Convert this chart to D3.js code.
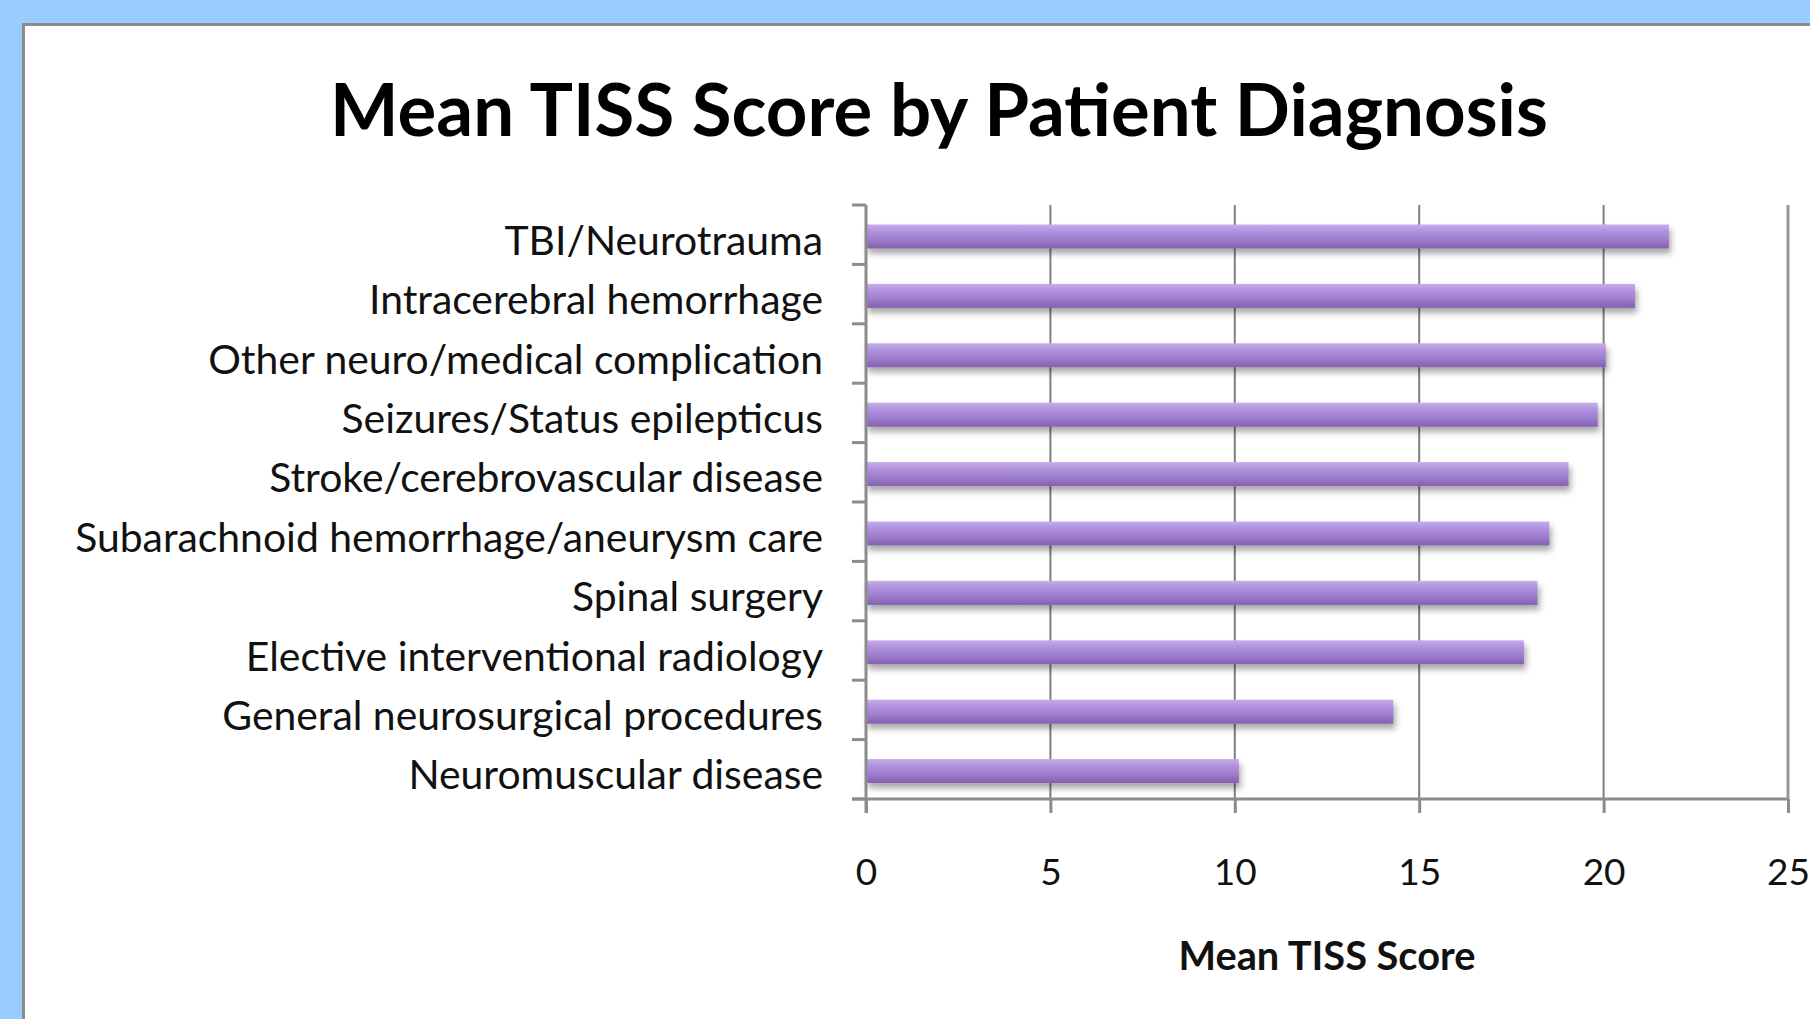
<!DOCTYPE html>
<html>
<head>
<meta charset="utf-8">
<script src="https://cdn.jsdelivr.net/npm/d3@7"></script>
<style>
  html, body { margin: 0; padding: 0; background: #99ccff; overflow: hidden; }
  svg { display: block; }
</style>
</head>
<body>
<svg id="chart" width="1810" height="1019"></svg>
<script>
// ---- data ----
const categories = [
  "TBI/Neurotrauma",
  "Intracerebral hemorrhage",
  "Other neuro/medical complication",
  "Seizures/Status epilepticus",
  "Stroke/cerebrovascular disease",
  "Subarachnoid hemorrhage/aneurysm care",
  "Spinal surgery",
  "Elective interventional radiology",
  "General neurosurgical procedures",
  "Neuromuscular disease"
];
const values = [21.77, 20.85, 20.06, 19.84, 19.05, 18.53, 18.21, 17.84, 14.3, 10.11];
const xTicks = [0, 5, 10, 15, 20, 25];
const titleText = "Mean TISS Score by Patient Diagnosis";
const xAxisTitle = "Mean TISS Score";

// ---- layout ----
const W = 1810, H = 1019;
const plot = { left: 866, right: 1788, top: 205, bottom: 799 };
const svg = d3.select("#chart");
const font = "Lato, 'Open Sans', sans-serif";

// background + panel
svg.append("rect").attr("width", W).attr("height", H).attr("fill", "#99ccff");
svg.append("rect").attr("x", 23.5).attr("y", 24.5).attr("width", W).attr("height", H)
  .attr("fill", "#ffffff").attr("stroke", "#8c8c8c").attr("stroke-width", 3);

const defs = svg.append("defs");
const grad = defs.append("linearGradient").attr("id", "barGrad")
  .attr("x1", 0).attr("y1", 0).attr("x2", 0).attr("y2", 1);
[["0%", "#c8aeea"], ["25%", "#b294df"], ["60%", "#9f7fcf"], ["100%", "#8560b0"]]
  .forEach(([o, c]) => grad.append("stop").attr("offset", o).attr("stop-color", c));
const filt = defs.append("filter").attr("id", "shadow")
  .attr("x", "-5%").attr("y", "-50%").attr("width", "110%").attr("height", "250%");
filt.append("feDropShadow").attr("dx", 2).attr("dy", 5).attr("stdDeviation", 3)
  .attr("flood-color", "#000").attr("flood-opacity", 0.35);

// scales
const x = d3.scaleLinear().domain([0, 25]).range([plot.left, plot.right]);
const y = d3.scaleBand().domain(categories).range([plot.top, plot.bottom]).padding(0);

// gridlines
svg.append("g").selectAll("line").data(xTicks.filter(t => t > 0)).join("line")
  .attr("x1", d => x(d)).attr("x2", d => x(d))
  .attr("y1", plot.top).attr("y2", plot.bottom)
  .attr("stroke", d => d === 25 ? "#999999" : "#7f7f7f")
  .attr("stroke-width", d => d === 25 ? 3 : 2);

// bars
const barH = 24, barOff = 19.5;
svg.append("g").selectAll("rect").data(categories).join("rect")
  .attr("x", plot.left)
  .attr("y", (d) => y(d) + barOff)
  .attr("width", (d, i) => x(values[i]) - x(0))
  .attr("height", barH)
  .attr("fill", "url(#barGrad)")
  .attr("filter", "url(#shadow)");

// x axis
const xAxis = d3.axisBottom(x).tickValues(xTicks).tickSize(14).tickFormat(d3.format("d")).tickPadding(0);
const gx = svg.append("g").attr("transform", `translate(0,${plot.bottom})`).call(xAxis);
gx.select(".domain").attr("stroke", "#8c8c8c").attr("stroke-width", 3)
  .attr("d", `M${plot.left - 14},0H${plot.right}`);
gx.selectAll(".tick line").attr("stroke", "#8c8c8c").attr("stroke-width", 3);
gx.selectAll(".tick text").attr("font-family", font).attr("font-size", 37)
  .attr("fill", "#111").attr("dy", null).attr("y", 86);

// y axis with ticks at band boundaries
const boundaries = d3.range(categories.length + 1).map(i => plot.top + i * y.step());
const gy = svg.append("g");
gy.append("line").attr("x1", plot.left).attr("x2", plot.left)
  .attr("y1", plot.top).attr("y2", plot.bottom + 14)
  .attr("stroke", "#8c8c8c").attr("stroke-width", 3);
gy.selectAll("line.t").data(boundaries).join("line").attr("class", "t")
  .attr("x1", plot.left - 14).attr("x2", plot.left)
  .attr("y1", d => d).attr("y2", d => d)
  .attr("stroke", "#8c8c8c").attr("stroke-width", 3);

// category labels
const labels = svg.append("g").selectAll("text").data(categories).join("text")
  .attr("x", 823).attr("y", d => y(d) + y.bandwidth() / 2 + 20)
  .attr("text-anchor", "end").attr("font-family", font).attr("font-size", 100)
  .attr("fill", "#111").text(d => d);
// fit font size so the longest label spans the reference width
const longest = labels.filter(d => d === "Subarachnoid hemorrhage/aneurysm care").node();
const lw = longest.getComputedTextLength();
labels.attr("font-size", 100 * 748 / lw);

// title
const title = svg.append("text").attr("x", 939).attr("y", 136)
  .attr("text-anchor", "middle").attr("font-family", font).attr("font-weight", 700)
  .attr("font-size", 100).attr("fill", "#000").text(titleText);
title.attr("font-size", 100 * 1218 / title.node().getComputedTextLength());

// x axis title
const xt = svg.append("text").attr("x", 1327).attr("y", 970)
  .attr("text-anchor", "middle").attr("font-family", font).attr("font-weight", 700)
  .attr("font-size", 100).attr("fill", "#111").text(xAxisTitle);
xt.attr("font-size", 100 * 297 / xt.node().getComputedTextLength());
</script>
</body>
</html>
